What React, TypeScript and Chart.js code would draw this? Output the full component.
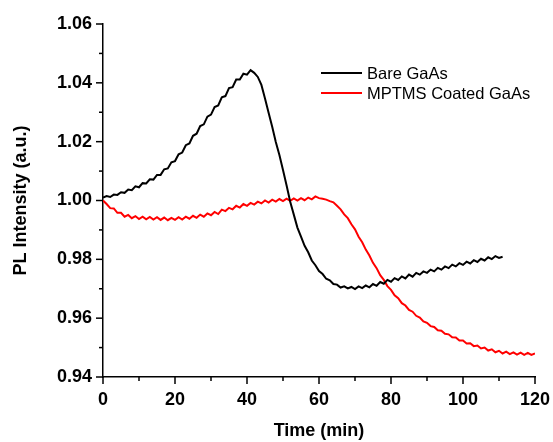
import { useEffect, useRef } from 'react';
import { Chart, registerables } from 'chart.js';

Chart.register(...registerables);

// PL intensity sampled every minute (x = minute index)
const bareValues = [
  1.0010, 1.0015, 1.0012, 1.0020, 1.0019, 1.0028, 1.0026, 1.0037, 1.0035, 1.0048,
  1.0045, 1.0059, 1.0058, 1.0072, 1.0071, 1.0087, 1.0087, 1.0106, 1.0109, 1.0130,
  1.0134, 1.0157, 1.0163, 1.0188, 1.0194, 1.0220, 1.0227, 1.0253, 1.0259, 1.0285,
  1.0292, 1.0318, 1.0323, 1.0351, 1.0355, 1.0382, 1.0385, 1.0411, 1.0411, 1.0431,
  1.0428, 1.0443, 1.0434, 1.0420, 1.0393, 1.0347, 1.0298, 1.0251, 1.0199, 1.0155,
  1.0104, 1.0051, 0.9996, 0.9952, 0.9908, 0.9877, 0.9846, 0.9824, 0.9796, 0.9780,
  0.9760, 0.9750, 0.9734, 0.9729, 0.9716, 0.9714, 0.9704, 0.9708, 0.9701, 0.9706,
  0.9699, 0.9708, 0.9702, 0.9711, 0.9705, 0.9716, 0.9710, 0.9723, 0.9717, 0.9730,
  0.9724, 0.9736, 0.9730, 0.9742, 0.9735, 0.9748, 0.9741, 0.9754, 0.9748, 0.9759,
  0.9754, 0.9765, 0.9759, 0.9771, 0.9765, 0.9776, 0.9770, 0.9782, 0.9776, 0.9787,
  0.9781, 0.9792, 0.9786, 0.9797, 0.9791, 0.9802, 0.9796, 0.9807, 0.9801, 0.9811,
  0.9805, 0.9809,
];

const coatedValues = [
  1.0000, 0.9988, 0.9974, 0.9973, 0.9958, 0.9958, 0.9945, 0.9951, 0.9940, 0.9947,
  0.9937, 0.9945, 0.9936, 0.9944, 0.9935, 0.9943, 0.9934, 0.9942, 0.9933, 0.9941,
  0.9934, 0.9943, 0.9935, 0.9945, 0.9938, 0.9948, 0.9941, 0.9952, 0.9945, 0.9956,
  0.9950, 0.9961, 0.9954, 0.9969, 0.9964, 0.9975, 0.9970, 0.9982, 0.9976, 0.9988,
  0.9982, 0.9992, 0.9986, 0.9996, 0.9990, 1.0000, 0.9993, 1.0003, 0.9996, 1.0005,
  0.9998, 1.0006, 0.9999, 1.0007, 1.0000, 1.0008, 1.0001, 1.0010, 1.0004, 1.0014,
  1.0008, 1.0006, 1.0003, 0.9998, 0.9994, 0.9982, 0.9970, 0.9953, 0.9940, 0.9919,
  0.9902, 0.9877, 0.9858, 0.9833, 0.9813, 0.9788, 0.9770, 0.9746, 0.9730, 0.9709,
  0.9696, 0.9678, 0.9668, 0.9651, 0.9643, 0.9628, 0.9622, 0.9608, 0.9602, 0.9589,
  0.9584, 0.9573, 0.9570, 0.9559, 0.9557, 0.9547, 0.9545, 0.9535, 0.9534, 0.9524,
  0.9524, 0.9514, 0.9515, 0.9505, 0.9507, 0.9497, 0.9500, 0.9490, 0.9494, 0.9484,
  0.9489, 0.9480, 0.9486, 0.9478, 0.9484, 0.9476, 0.9483, 0.9475, 0.9482, 0.9475,
  0.9480,
];

const seriesLabels = ['Bare GaAs', 'MPTMS Coated GaAs'];
const seriesColors = ['#000000', '#ff0000'];

const xMajorTicks = [0, 20, 40, 60, 80, 100, 120];
const xMinorTicks = [10, 30, 50, 70, 90, 110];
const yMajorTicks = [0.94, 0.96, 0.98, 1.0, 1.02, 1.04, 1.06];
const yMinorTicks = [0.95, 0.97, 0.99, 1.01, 1.03, 1.05];

const W = 553;
const H = 442;

const decorPlugin = {
  id: 'decor',
  afterDraw(chart: any) {
    const { ctx, chartArea, scales } = chart;
    const xs = scales.x;
    const ys = scales.y;
    ctx.save();
    ctx.strokeStyle = '#000';
    ctx.lineWidth = 1.5;
    const drawX = (vals: number[], len: number) => {
      vals.forEach((v) => {
        const px = xs.getPixelForValue(v);
        ctx.beginPath();
        ctx.moveTo(px, chartArea.bottom);
        ctx.lineTo(px, chartArea.bottom + len);
        ctx.stroke();
      });
    };
    const drawY = (vals: number[], len: number) => {
      vals.forEach((v) => {
        const py = ys.getPixelForValue(v);
        ctx.beginPath();
        ctx.moveTo(chartArea.left, py);
        ctx.lineTo(chartArea.left - len, py);
        ctx.stroke();
      });
    };
    drawX(xMajorTicks, 7);
    drawX(xMinorTicks, 4);
    drawY(yMajorTicks, 7);
    drawY(yMinorTicks, 4);

    // legend
    const lx = chartArea.left + 218;
    const ly = chartArea.top + 49;
    ctx.font = '16.5px "Liberation Sans", Arial, sans-serif';
    ctx.textBaseline = 'middle';
    ctx.textAlign = 'left';
    chart.data.datasets.forEach((ds: any, i: number) => {
      const yy = ly + i * 20;
      ctx.strokeStyle = ds.borderColor;
      ctx.lineWidth = 1.8;
      ctx.beginPath();
      ctx.moveTo(lx, yy);
      ctx.lineTo(lx + 41, yy);
      ctx.stroke();
      ctx.fillStyle = '#000';
      ctx.fillText(ds.label, lx + 46, yy + 1);
    });
    ctx.restore();
  },
};

export default function App() {
  const ref = useRef<HTMLCanvasElement | null>(null);

  useEffect(() => {
    if (!ref.current) return;
    const tickFont = { family: '"Liberation Sans", Arial, sans-serif', size: 18, weight: 'bold' as const };
    const chart = new Chart(ref.current, {
      type: 'line',
      data: {
        datasets: [
          {
            label: seriesLabels[0],
            data: bareValues.map((v, i) => ({ x: i, y: v })),
            borderColor: seriesColors[0],
            borderWidth: 2,
            pointRadius: 0,
            tension: 0,
            fill: false,
          },
          {
            label: seriesLabels[1],
            data: coatedValues.map((v, i) => ({ x: i, y: v })),
            borderColor: seriesColors[1],
            borderWidth: 2,
            pointRadius: 0,
            tension: 0,
            fill: false,
          },
        ],
      },
      options: {
        responsive: false,
        animation: false,
        devicePixelRatio: 1,
        layout: { padding: { top: 24, right: 18, left: 0, bottom: 0 } },
        plugins: {
          legend: { display: false },
          tooltip: { enabled: false },
        },
        scales: {
          x: {
            type: 'linear',
            min: 0,
            max: 120,
            afterBuildTicks: (s: any) => {
              s.ticks = xMajorTicks.map((v) => ({ value: v }));
            },
            afterFit: (s: any) => {
              s.height = 65;
              s.paddingLeft = 0;
              s.paddingRight = 0;
            },
            grid: { display: false, drawTicks: false },
            border: { display: true, color: '#000', width: 1.5 },
            ticks: {
              color: '#000',
              font: tickFont,
              padding: 12,
              maxRotation: 0,
              autoSkip: false,
              callback: (v: any) => String(v),
            },
            title: {
              display: true,
              text: 'Time (min)',
              color: '#000',
              font: tickFont,
              padding: { top: 0, bottom: 0 },
            },
          },
          y: {
            type: 'linear',
            min: 0.94,
            max: 1.06,
            afterBuildTicks: (s: any) => {
              s.ticks = yMajorTicks.map((v) => ({ value: v }));
            },
            afterFit: (s: any) => {
              s.width = 103;
              s.paddingTop = 0;
              s.paddingBottom = 0;
            },
            grid: { display: false, drawTicks: false },
            border: { display: true, color: '#000', width: 1.5 },
            ticks: {
              color: '#000',
              font: tickFont,
              padding: 11,
              autoSkip: false,
              callback: (v: any) => Number(v).toFixed(2),
            },
            title: {
              display: true,
              text: 'PL Intensity (a.u.)',
              color: '#000',
              font: tickFont,
              padding: { top: 10, bottom: 10 },
            },
          },
        },
      },
      plugins: [decorPlugin],
    });
    return () => chart.destroy();
  }, []);

  return (
    <div style={{ position: 'absolute', left: 0, top: 0, width: W, height: H, background: '#fff' }}>
      <canvas ref={ref} width={W} height={H} style={{ width: W, height: H, display: 'block' }} />
    </div>
  );
}
